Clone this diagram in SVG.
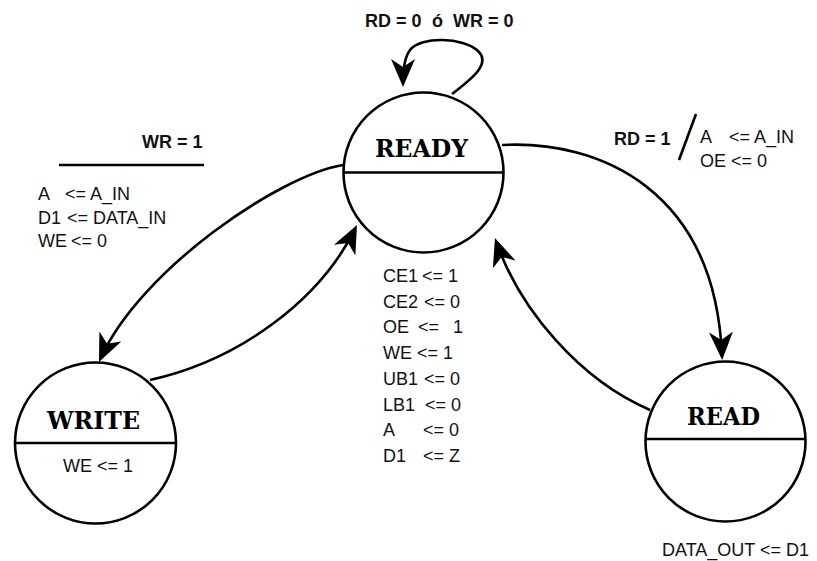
<svg xmlns="http://www.w3.org/2000/svg" width="817" height="561" viewBox="0 0 817 561">
<style>
.st{fill:#fff;stroke:#000;stroke-width:2.6}
.dv{stroke:#000;stroke-width:2.6}
.nm{font-family:"DejaVu Serif","Liberation Serif",serif;font-weight:bold;font-size:24px;fill:#000}
.tx{font-family:"Liberation Sans",Arial,sans-serif;font-size:18px;fill:#111}
.bd{font-family:"Liberation Sans",Arial,sans-serif;font-size:18px;font-weight:bold;fill:#111}
.cn{fill:none;stroke:#000;stroke-width:2.6}
</style>
<defs>
<marker id="ah" viewBox="0 0 28 24" markerUnits="userSpaceOnUse" markerWidth="28" markerHeight="24" refX="24" refY="12" orient="auto">
<path d="M28 12 L0 0 L8 12 L0 24 Z" fill="#000"/>
</marker>
</defs>
<rect width="817" height="561" fill="#fff"/>
<g id="connectors">
<path class="cn" d="M452 94 C470 80 492 64 478 51 C463 37 421 36 410 50 C404 58 403 70 403 83" marker-end="url(#ah)"/>
<path class="cn" d="M502 145 C600 140 715 190 722 356" marker-end="url(#ah)"/>
<path class="cn" d="M650 410 C580 380 520 310 496.3 241.8" marker-end="url(#ah)"/>
<path class="cn" d="M343 165 C280 175 140 270 100.6 358.4" marker-end="url(#ah)"/>
<path class="cn" d="M150 380 C240 360 320 300 355.2 228.6" marker-end="url(#ah)"/>
</g>
<g id="ready">
<circle class="st" cx="423.5" cy="172.5" r="80"/>
<line class="dv" x1="343.5" y1="172.5" x2="503.5" y2="172.5"/>
<text class="nm" x="375" y="157" textLength="93" lengthAdjust="spacingAndGlyphs">READY</text>
</g>
<g id="write">
<circle class="st" cx="95.5" cy="443" r="80.5"/>
<line class="dv" x1="15" y1="443" x2="176" y2="443"/>
<text class="nm" x="47" y="429" textLength="93" lengthAdjust="spacingAndGlyphs">WRITE</text>
<text class="tx" x="63" y="472">WE &lt;= 1</text>
</g>
<g id="read">
<circle class="st" cx="725.5" cy="441.5" r="80"/>
<line class="dv" x1="645.5" y1="439" x2="805.5" y2="439"/>
<text class="nm" x="687" y="425" textLength="73" lengthAdjust="spacingAndGlyphs">READ</text>
<text class="tx" x="662" y="556">DATA_OUT &lt;= D1</text>
</g>
<g id="loop-label">
<text class="bd" y="27"><tspan x="365">RD = 0</tspan><tspan x="432">ó</tspan><tspan x="453">WR = 0</tspan></text>
</g>
<g id="write-label">
<text class="bd" x="142" y="148">WR = 1</text>
<line x1="59" y1="165" x2="204" y2="165" stroke="#000" stroke-width="2.4"/>
<text class="tx" y="200"><tspan x="38">A</tspan><tspan x="65">&lt;= A_IN</tspan></text>
<text class="tx" y="223.5"><tspan x="38">D1</tspan><tspan x="67">&lt;= DATA_IN</tspan></text>
<text class="tx" y="247"><tspan x="38">WE</tspan><tspan x="71">&lt;= 0</tspan></text>
</g>
<g id="read-label">
<text class="bd" x="614" y="145">RD = 1</text>
<line x1="696" y1="114" x2="679" y2="160" stroke="#000" stroke-width="2.6"/>
<text class="tx" y="143"><tspan x="700">A</tspan><tspan x="729">&lt;= A_IN</tspan></text>
<text class="tx" y="167"><tspan x="700">OE</tspan><tspan x="731">&lt;= 0</tspan></text>
</g>
<g id="ready-outputs">
<text class="tx" y="282"><tspan x="383">CE1</tspan><tspan x="422">&lt;= 1</tspan></text>
<text class="tx" y="307.7"><tspan x="383">CE2</tspan><tspan x="424">&lt;= 0</tspan></text>
<text class="tx" y="333.4"><tspan x="383">OE</tspan><tspan x="418">&lt;=</tspan><tspan x="453">1</tspan></text>
<text class="tx" y="359.1"><tspan x="383">WE</tspan><tspan x="417">&lt;= 1</tspan></text>
<text class="tx" y="384.8"><tspan x="383">UB1</tspan><tspan x="424">&lt;= 0</tspan></text>
<text class="tx" y="410.5"><tspan x="383">LB1</tspan><tspan x="425">&lt;= 0</tspan></text>
<text class="tx" y="436.2"><tspan x="383">A</tspan><tspan x="423">&lt;= 0</tspan></text>
<text class="tx" y="461.9"><tspan x="383">D1</tspan><tspan x="423">&lt;= Z</tspan></text>
</g>
</svg>
